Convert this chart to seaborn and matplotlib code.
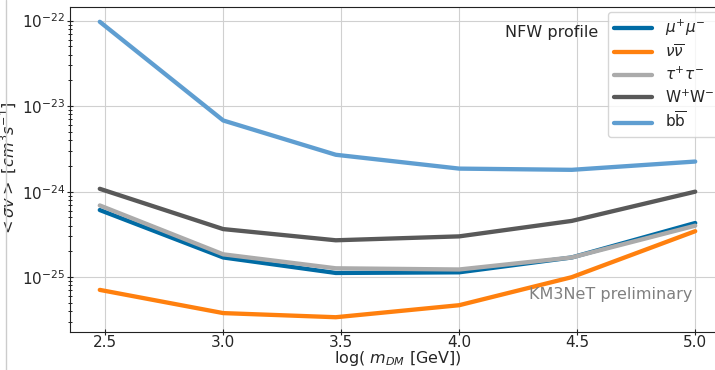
import numpy as np
import pandas as pd
import matplotlib
matplotlib.use("Agg")
import matplotlib.pyplot as plt
import seaborn as sns
from matplotlib.lines import Line2D

# dark matter masses (log10 GeV)
log_mass = [2.477, 3.0, 3.477, 4.0, 4.477, 5.0]

# upper limits on <sigma v> per channel
mumu = [6.1e-25, 1.7e-25, 1.12e-25, 1.14e-25, 1.7e-25, 4.3e-25]
nunu = [7.1e-26, 3.8e-26, 3.4e-26, 4.7e-26, 1.0e-25, 3.45e-25]
tautau = [6.9e-25, 1.85e-25, 1.27e-25, 1.23e-25, 1.7e-25, 4.0e-25]
ww = [1.08e-24, 3.65e-25, 2.7e-25, 3.0e-25, 4.55e-25, 1.0e-24]
bb = [9.7e-23, 6.8e-24, 2.7e-24, 1.86e-24, 1.8e-24, 2.25e-24]

channels = [r'$\mu^{+}\mu^{-}$', r'$\nu\overline{\nu}$', r'$\tau^{+}\tau^{-}$',
            r'W$^{+}$W$^{-}$', r'b$\overline{\mathrm{b}}$']
colors = ['#006BA4', '#FF800E', '#ABABAB', '#595959', '#5F9ED1']

sns.set_style("ticks")
plt.rcParams['font.family'] = ['DejaVu Sans']

fig = plt.figure(figsize=(7.15, 3.7), dpi=100)
ax = fig.add_axes([70 / 715, 38 / 370, 655 / 715, 325 / 370])

for vals, name, col in zip([mumu, nunu, tautau, ww, bb], channels, colors):
    sns.lineplot(x=log_mass, y=vals, label=name, color=col, linewidth=3.1, ax=ax)

ax.set_yscale('log')
ax.grid(True, color='#d0d0d0', linewidth=0.8)
for sp in ax.spines.values():
    sp.set_color('#222222')
ax.tick_params(axis='both', which='major', labelsize=11, direction='inout',
               length=5, width=0.8, pad=1, color='#222222')
ax.tick_params(axis='x', which='major', pad=0)
ax.tick_params(axis='y', which='minor', direction='inout', length=3,
               width=0.7, color='#222222')
ax.set_xticks([2.5, 3.0, 3.5, 4.0, 4.5, 5.0])
ax.set_xlabel(r'log( $m_{DM}$ [GeV])', fontsize=11.5, labelpad=-1)
ax.set_ylabel(r'$<\sigma v>$ $[cm^{3}s^{-1}]$', fontsize=11.5, labelpad=2)

ax.legend(loc='upper right', fontsize=11, handlelength=2.5, borderaxespad=0.3,
          labelspacing=0.35)
ax.text(598 / 715, 1 - 33 / 370, 'NFW profile', fontsize=11.5, ha='right',
        va='center', transform=fig.transFigure)
ax.text(0.825, 0.115, 'KM3NeT preliminary', fontsize=11.5, color='gray',
        ha='center', va='center', transform=ax.transAxes)

# thin border at the left edge of the picture
fig.add_artist(Line2D([6 / 715, 6 / 715], [0, 1], color='#cccccc', linewidth=1,
                      transform=fig.transFigure))

fig.savefig('out.png', dpi=100)
